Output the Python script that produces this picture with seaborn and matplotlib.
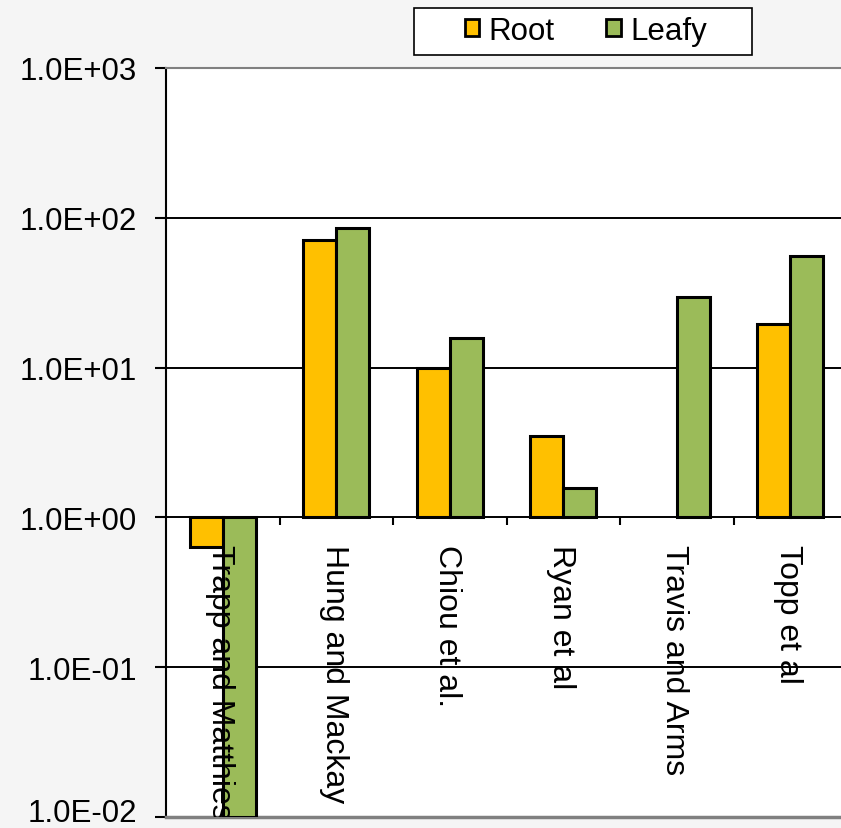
import matplotlib
matplotlib.use("Agg")
import matplotlib.pyplot as plt
import matplotlib.transforms as mtransforms
from matplotlib.patches import Patch, Rectangle
import numpy as np
import pandas as pd
import seaborn as sns

# === Données (échelle log, base 1.0E+00) ===
studies = ["Trapp and Matthies", "Hung and Mackay", "Chiou et al.",
           "Ryan et al", "Travis and Arms", "Topp et al"]
root_values = [0.63, 71.0, 10.0, 3.47, np.nan, 19.4]
leafy_values = [0.01, 85.5, 15.7, 1.58, 29.4, 55.3]
series_names = ["Root", "Leafy"]
decades = [-2, -1, 0, 1, 2, 3]
tick_labels = ["1.0E-02", "1.0E-01", "1.0E+00", "1.0E+01", "1.0E+02", "1.0E+03"]

# === Couleurs ===
COLOR_ROOT = "#FFC000"
COLOR_LEAFY = "#9BBB59"
COLOR_BG = "#F5F5F5"
COLOR_BORDER = "#808080"

df = pd.DataFrame({
    "study": studies * 2,
    "series": [series_names[0]] * len(studies) + [series_names[1]] * len(studies),
    "value": root_values + leafy_values,
})
# barres depuis 1.0 : on trace log10(valeur) sur un axe linéaire
df["log_value"] = np.log10(df["value"])
df = df.dropna()

sns.set_theme(style="white")
plt.rcParams["font.family"] = ["Liberation Sans", "DejaVu Sans"]
plt.rcParams["text.color"] = "black"
plt.rcParams["ytick.color"] = "black"

fig = plt.figure(figsize=(8.41, 8.29), dpi=100, facecolor=COLOR_BG)
ax = fig.add_axes([166 / 841, 1 - 818 / 829, 681 / 841, 749 / 829])
ax.set_facecolor("white")

sns.barplot(
    data=df, x="study", y="log_value", hue="series",
    order=studies, hue_order=series_names,
    palette=[COLOR_ROOT, COLOR_LEAFY], width=0.58, gap=0,
    edgecolor="black", linewidth=2.2, saturation=1, legend=False,
    ax=ax, zorder=3,
)

ax.set_xlim(-0.5, len(studies) - 0.5)
ax.set_ylim(decades[0], decades[-1])
ax.set_yticks(decades)
# le libellé le plus bas est posé à part, un peu remonté pour rester dans l'image
ax.set_yticklabels([""] + tick_labels[1:], fontsize=22.5, color="black")
fig.text(137 / 841, 1 - 814 / 829, tick_labels[0], ha="right", va="center",
         fontsize=22.5, color="black")
ax.set_xticks([])
ax.set_xlabel("")
ax.set_ylabel("")
ax.yaxis.grid(True, color="black", linewidth=1.4)
ax.set_axisbelow(True)
ax.tick_params(axis="y", direction="out", length=8, width=1.5,
               color="black", pad=13, left=True)

# ---------- Bordures ----------
for side in ["top", "bottom", "right"]:
    ax.spines[side].set_color(COLOR_BORDER)
ax.spines["top"].set_linewidth(1.5)
ax.spines["bottom"].set_linewidth(2.5)
ax.spines["left"].set_color("black")
ax.spines["left"].set_linewidth(1.5)

# ---------- Petites graduations entre catégories sur la ligne 1.0E+00 ----------
bounds = np.arange(len(studies) - 1) + 0.5
ax.vlines(bounds, -8 / 149.6, 0, color="black", linewidth=1.5, zorder=4)

# ---------- Libellés des études, verticaux sous la base ----------
offset = mtransforms.ScaledTranslation(0, -27 / 100, fig.dpi_scale_trans)
for i, name in enumerate(studies):
    ax.text(i - 0.02, 0, name, rotation=-90, ha="center", va="top",
            fontsize=23, color="black", transform=ax.transData + offset,
            zorder=5, clip_on=True)

# ---------- Légende (cadre dessiné à part, contenu décalé comme Excel) ----------
fig.patches.append(Rectangle(
    (414 / 841, 1 - 56 / 829), 338 / 841, 47 / 829,
    transform=fig.transFigure, facecolor="white", edgecolor="black",
    linewidth=1.2, zorder=1,
))
handles = [Patch(facecolor=COLOR_ROOT, edgecolor="black", linewidth=2),
           Patch(facecolor=COLOR_LEAFY, edgecolor="black", linewidth=2)]
leg = fig.legend(
    handles, series_names, loc="center left",
    bbox_to_anchor=(465 / 841, 1 - 32 / 829),
    ncol=2, fontsize=22.5, frameon=False,
    handlelength=0.46, handleheight=0.46,
    handletextpad=0.3, columnspacing=1.65, borderpad=0, borderaxespad=0,
)
leg.set_zorder(2)

fig.savefig("out.png", dpi=100, facecolor=COLOR_BG)
